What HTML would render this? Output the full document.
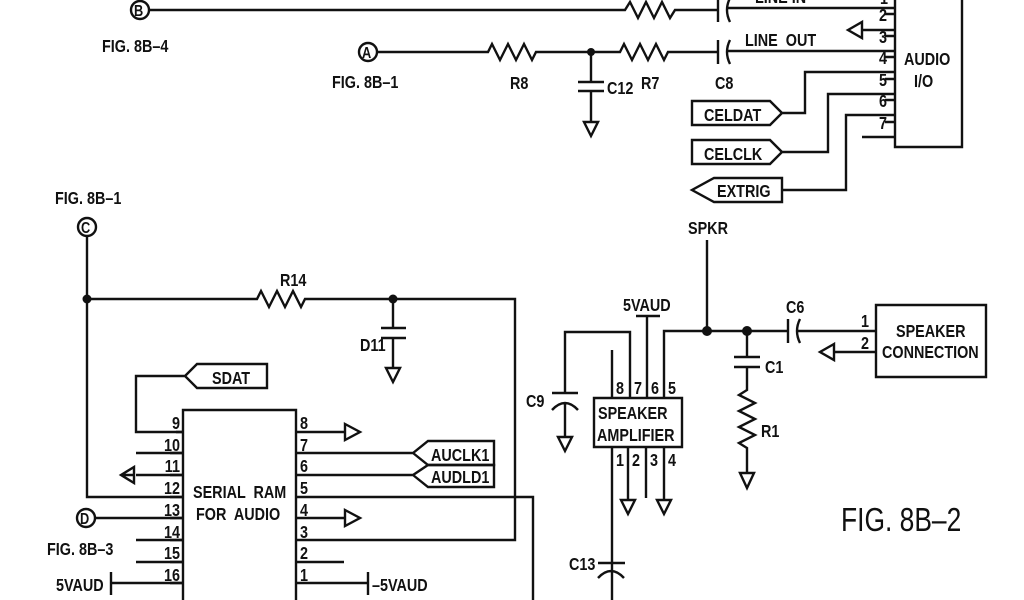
<!DOCTYPE html>
<html><head><style>
html,body{margin:0;padding:0;background:#fff;}
svg{display:block;}
text{font-family:"Liberation Sans",sans-serif;font-size:18px;font-weight:bold;fill:#111;transform-box:fill-box;transform-origin:0 0;transform:scaleX(.8);}
text.e{transform-origin:100% 0;}
text.big{font-size:33px;font-weight:normal;transform:scaleX(.8);}
</style></head><body>
<svg width="1024" height="600" viewBox="0 0 1024 600" xmlns="http://www.w3.org/2000/svg">
<g stroke="#111" stroke-width="2.4" fill="none" stroke-linejoin="miter">
<circle cx="140" cy="10" r="9"/>
<path d="M149 10 H625 l5 -8 l8 16 l8 -16 l8 16 l8 -16 l8 16 l5 -8 H718"/>
<path d="M718 -2 V22 M730 -2 q-6 12 0 24"/>
<path d="M726 8 H895"/>
<circle cx="368" cy="52" r="9"/>
<path d="M377 52 H488 l4 -8 l8 16 l8 -16 l8 16 l8 -16 l8 16 l4 -8 H620 l4 -8 l8 16 l8 -16 l8 16 l8 -16 l8 16 l4 -8 H718"/>
<path d="M718 40 V64 M730 40 q-6 12 0 24"/>
<path d="M726 51 H895"/>
<path d="M591 52 V82 M578 82 H604 M578 91 H604 M591 91 V122"/>
<path d="M584 122 H598 L591 136 Z"/>
<path d="M895 -5 V147 H962 V-5"/>
<path d="M862 30 H895 M848 30 L862 22 V38 Z"/>
<path d="M895 72 H805 V113 H782 L770 101 H692 V125 H770 L782 113"/>
<path d="M895 94 H828 V152 H782 L770 140 H692 V164 H770 L782 152"/>
<path d="M895 115 H846 V190 H782 V178 H714 L692 190 L714 202 H782 V190"/>
<path d="M862 137 H895"/>
<path d="M885 14 H895 M885 36 H895 M885 57 H895 M885 79 H895 M885 100 H895 M885 122 H895"/>
<circle cx="87" cy="227" r="9"/>
<path d="M87 236 V497 H183"/>
<path d="M87 299 H257 l4 -8 l8 16 l8 -16 l8 16 l8 -16 l8 16 l4 -8 H515 V540 H296"/>
<path d="M393 299 V328 M381 328 H406 M381 338 H406 M393 338 V368 M386 368 H400 L393 382 Z"/>
<path d="M183 432 H136 V376 H185 L197 364 H267 V388 H197 L185 376"/>
<path d="M183 605 V410 H296 V605"/>
<path d="M136 453 H183 M136 475 H183 M136 540 H183 M136 562 H183 M111 583 H183 M111 572 V595"/>
<path d="M134 475 L121 475 M134 467 L121 475 L134 483 Z"/>
<path d="M95 518 H183"/>
<circle cx="86" cy="518" r="9"/>
<path d="M296 432 H345 M345 424 L360 432 L345 440 Z"/>
<path d="M296 518 H345 M345 510 L360 518 L345 526 Z"/>
<path d="M296 453 H413 L428 441 H494 V465 H428 L413 453"/>
<path d="M296 475 H413 L428 465 H494 V487 H428 L413 475"/>
<path d="M296 497 H533 V605"/>
<path d="M296 562 H344"/>
<path d="M296 583 H368 M368 572 V595"/>
<path d="M176 432 H183 M170 453 H183 M170 475 H183 M170 497 H183 M170 518 H183 M170 540 H183 M170 562 H183 M170 583 H183"/>
<path d="M594 398 H682 V447 H594 Z"/>
<path d="M612 398 V350"/>
<path d="M630 398 V332 H565 V393 M552 393 H578 M552 410 q13 -14 26 0 M565 403 V437 M558 437 H572 L565 451 Z"/>
<path d="M647 398 V316 M636 316 H660"/>
<path d="M664 398 V331 H788 M707 331 V240"/>
<path d="M747 331 V357 M734 357 H760 M734 367 H760 M747 367 V390 l-8 5 l16 8 l-16 8 l16 8 l-16 8 l16 8 l-16 8 l8 5 V473 M740 473 H754 L747 488 Z"/>
<path d="M788 319 V343 M800 319 q-6 12 0 24 M796 331 H876"/>
<path d="M876 305 H986 V377 H876 Z"/>
<path d="M876 352 H834 M834 344 L820 352 L834 360 Z"/>
<path d="M612 447 V605 M598 563 H625 M598 578 q13 -14 26 0"/>
<path d="M628 447 V500 M621 500 H635 L628 514 Z"/>
<path d="M646 447 V498"/>
<path d="M664 447 V500 M657 500 H671 L664 514 Z"/>
</g>
<g fill="#111">
<circle cx="591" cy="52" r="4"/>
<circle cx="87" cy="299" r="4.5"/>
<circle cx="393" cy="299" r="4.5"/>
<circle cx="707" cy="331" r="5"/>
<circle cx="747" cy="331" r="5"/>
</g>
<g>
<text x="134" y="16" style="font-size:16px">B</text>
<text x="362" y="58" style="font-size:16px">A</text>
<text x="81" y="233" style="font-size:16px">C</text>
<text x="80" y="524" style="font-size:16px">D</text>
<text x="102" y="52">FIG. 8B–4</text>
<text x="332" y="88">FIG. 8B–1</text>
<text x="55" y="204">FIG. 8B–1</text>
<text x="47" y="555">FIG. 8B–3</text>
<text x="755" y="3">LINE IN</text>
<text x="745" y="46" xml:space="preserve">LINE  OUT</text>
<text x="880" y="4">1</text>
<text x="510" y="89">R8</text>
<text x="607" y="94">C12</text>
<text x="641" y="89">R7</text>
<text x="715" y="89">C8</text>
<text x="879" y="21">2</text>
<text x="879" y="43">3</text>
<text x="879" y="64">4</text>
<text x="879" y="86">5</text>
<text x="879" y="107">6</text>
<text x="879" y="129">7</text>
<text x="904" y="65">AUDIO</text>
<text x="914" y="87">I/O</text>
<text x="704" y="121">CELDAT</text>
<text x="704" y="160">CELCLK</text>
<text x="717" y="197">EXTRIG</text>
<text x="280" y="286">R14</text>
<text x="360" y="351">D11</text>
<text x="212" y="384">SDAT</text>
<text x="193" y="498" xml:space="preserve">SERIAL  RAM</text>
<text x="196" y="520" xml:space="preserve">FOR  AUDIO</text>
<text x="431" y="461">AUCLK1</text>
<text x="431" y="483">AUDLD1</text>
<g text-anchor="end">
<text class="e" x="180" y="429">9</text><text class="e" x="180" y="451">10</text><text class="e" x="180" y="472">11</text><text class="e" x="180" y="494">12</text>
<text class="e" x="180" y="516">13</text><text class="e" x="180" y="538">14</text><text class="e" x="180" y="559">15</text><text class="e" x="180" y="581">16</text>
</g>
<text x="300" y="429">8</text><text x="300" y="451">7</text><text x="300" y="472">6</text><text x="300" y="494">5</text>
<text x="300" y="516">4</text><text x="300" y="538">3</text><text x="300" y="559">2</text><text x="300" y="581">1</text>
<text x="56" y="591">5VAUD</text>
<text x="372" y="591">–5VAUD</text>
<text x="688" y="234">SPKR</text>
<text x="623" y="311">5VAUD</text>
<text x="526" y="407">C9</text>
<text x="616" y="394">8</text><text x="634" y="394">7</text><text x="651" y="394">6</text><text x="668" y="394">5</text>
<text x="598" y="419">SPEAKER</text>
<text x="597" y="441">AMPLIFIER</text>
<text x="616" y="466">1</text><text x="632" y="466">2</text><text x="650" y="466">3</text><text x="668" y="466">4</text>
<text x="765" y="373">C1</text>
<text x="761" y="437">R1</text>
<text x="786" y="313">C6</text>
<text x="861" y="327">1</text>
<text x="861" y="349">2</text>
<text x="896" y="337">SPEAKER</text>
<text x="882" y="358">CONNECTION</text>
<text x="569" y="570">C13</text>
<text class="big" x="841" y="531">FIG. 8B–2</text>
</g>
</svg>
</body></html>
